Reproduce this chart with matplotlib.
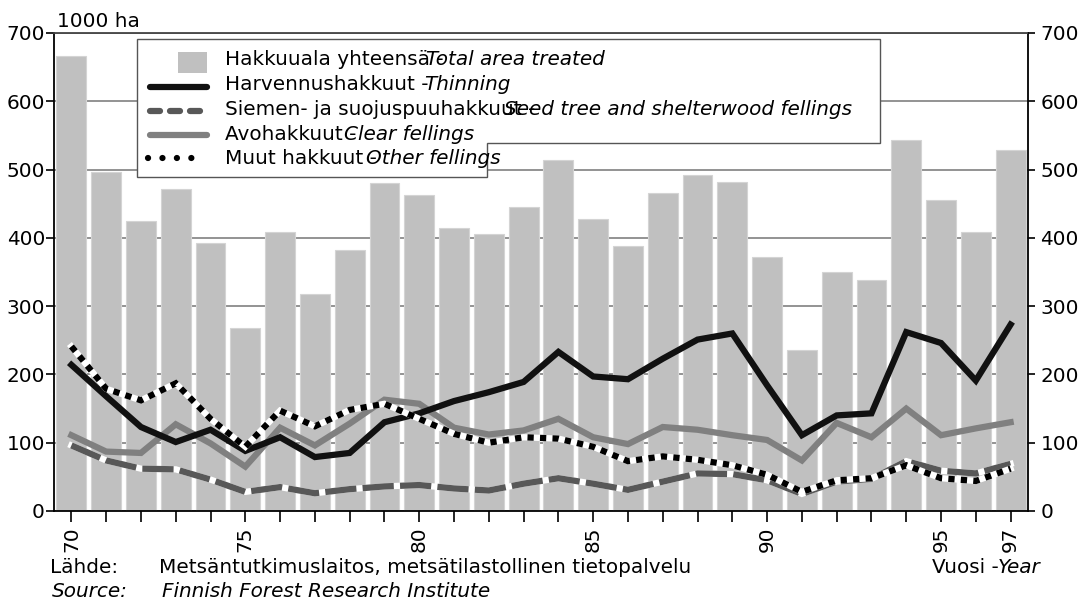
import matplotlib
matplotlib.use("Agg")
import matplotlib.pyplot as plt
from matplotlib.patches import Polygon, Rectangle
from matplotlib.lines import Line2D

# ---- data ----
years = list(range(70, 98))
total_area = [667, 497, 425, 471, 393, 268, 409, 318, 382, 480, 463, 415, 406, 445,
              514, 427, 388, 465, 492, 482, 372, 236, 350, 339, 543, 456, 409, 529]
thinning = [214, 168, 123, 101, 119, 88, 108, 79, 85, 130, 143, 161, 174, 189,
            233, 197, 193, 223, 251, 260, 184, 111, 140, 143, 262, 246, 191, 273]
seed_tree = [96, 74, 62, 61, 46, 28, 35, 26, 32, 36, 38, 33, 30, 40,
             48, 40, 31, 43, 55, 54, 45, 25, 43, 47, 73, 59, 55, 69]
clear_fell = [111, 87, 85, 127, 99, 65, 122, 96, 128, 163, 157, 122, 112, 118,
              135, 108, 98, 123, 119, 111, 104, 74, 129, 108, 150, 111, 121, 130]
other_fell = [241, 179, 162, 187, 135, 94, 147, 124, 148, 157, 135, 113, 100, 108,
              106, 94, 73, 80, 75, 67, 53, 28, 45, 48, 67, 48, 44, 62]
labeled_years = [70, 75, 80, 85, 90, 95, 97]
y_ticks = [0, 100, 200, 300, 400, 500, 600, 700]

legend_fi = ["Hakkuuala yhteensä -", "Harvennushakkuut -", "Siemen- ja suojuspuuhakkuut -",
             "Avohakkuut -", "Muut hakkuut -"]
legend_en = ["Total area treated", "Thinning", "Seed tree and shelterwood fellings",
             "Clear fellings", "Other fellings"]

W, H = 1079, 604
FS = 14.4
plt.rcParams['font.family'] = ['DejaVu Sans']

def fx(x):
    return x / W

def fy(y):
    return 1 - y / H

fig = plt.figure(figsize=(W / 100, H / 100), dpi=100)
ax = fig.add_axes([fx(54), fy(511), (1028 - 54) / W, (511 - 33) / H])

BAR_C = '#c0c0c0'
THIN_C = '#111111'
SEED_C = '#585858'
CLEAR_C = '#808080'
LW = 4.5

ax.bar(years, total_area, width=0.86, color=BAR_C, edgecolor='#d4d4d4', linewidth=0.8, zorder=2)

ax.plot(years, clear_fell, color=CLEAR_C, lw=LW, solid_joinstyle='miter', zorder=3)
ax.plot(years, thinning, color=THIN_C, lw=LW, solid_joinstyle='miter', zorder=3.5)
ax.plot(years, seed_tree, color='white', lw=LW, solid_joinstyle='miter', zorder=4)
ax.plot(years, seed_tree, color=SEED_C, lw=LW, linestyle=(0, (5, 1)),
        dash_capstyle='butt', dash_joinstyle='miter', zorder=4.1)
ax.plot(years, other_fell, color='white', lw=LW, solid_joinstyle='miter', zorder=5)
ax.plot(years, other_fell, color='black', lw=LW, linestyle=(0, (1, 1)),
        dash_capstyle='butt', dash_joinstyle='miter', zorder=5.1)

ax.set_xlim(69.5, 97.5)
ax.set_ylim(0, 700)
ax.set_yticks(y_ticks)
ax.set_yticklabels([str(v) for v in y_ticks])
ax.set_axisbelow(True)
ax.yaxis.grid(True, color='#808080', lw=1.2)
ax.xaxis.grid(False)

ax.set_xticks(years)
ax.set_xticklabels([str(y) if y in labeled_years else '' for y in years],
                   rotation=90, fontsize=FS)
ax.tick_params(axis='x', length=8, width=1.2, pad=3, direction='out')
ax.tick_params(axis='y', length=6, width=1.2, pad=0.5, labelsize=FS, direction='out')

for s in ['left', 'right', 'bottom']:
    ax.spines[s].set_linewidth(1.3)
    ax.spines[s].set_color('black')
ax.spines['top'].set_linewidth(1.3)
ax.spines['top'].set_color('#444444')

ax2 = ax.twinx()
ax2.set_ylim(0, 700)
ax2.set_yticks(y_ticks)
ax2.set_yticklabels([str(v) for v in y_ticks])
ax2.tick_params(axis='y', length=5, width=1.2, pad=4, labelsize=FS, direction='out')
for s in ax2.spines.values():
    s.set_visible(False)

# unit label
fig.text(fx(57), fy(27), "1000 ha", fontsize=FS, va='baseline', ha='left')

# legend box (stepped outline)
poly = Polygon([(fx(137), fy(39)), (fx(880), fy(39)), (fx(880), fy(143)),
                (fx(487), fy(143)), (fx(487), fy(177)), (fx(137), fy(177))],
               closed=True, transform=fig.transFigure, facecolor='white',
               edgecolor='#555555', lw=1.0, zorder=10)
fig.add_artist(poly)

fig.add_artist(Rectangle((fx(178), fy(73)), 29 / W, 21 / H, transform=fig.transFigure,
                         facecolor=BAR_C, edgecolor='none', zorder=11))
fig.add_artist(Line2D([fx(150), fx(207)], [fy(87), fy(87)], transform=fig.transFigure,
                      color=THIN_C, lw=LW, solid_capstyle='round', zorder=11))
fig.add_artist(Line2D([fx(150), fx(207)], [fy(111), fy(111)], transform=fig.transFigure,
                      color=SEED_C, lw=LW, linestyle=(0, (1.6, 1.6)),
                      dash_capstyle='round', zorder=11))
fig.add_artist(Line2D([fx(150), fx(207)], [fy(135), fy(135)], transform=fig.transFigure,
                      color=CLEAR_C, lw=LW, solid_capstyle='round', zorder=11))
fig.add_artist(Line2D([fx(148), fx(196)], [fy(158), fy(158)], transform=fig.transFigure,
                      color='black', lw=LW, linestyle=(0, (0.01, 2.3)),
                      dash_capstyle='round', zorder=11))

row_base = [65, 90, 115, 140, 164]
en_x = [426, 424, 504, 344, 366]
for fi, en, yb, ex in zip(legend_fi, legend_en, row_base, en_x):
    fig.text(fx(225), fy(yb), fi, fontsize=FS, va='baseline', ha='left', zorder=12)
    fig.text(fx(ex), fy(yb), en, fontsize=FS, style='italic', va='baseline', ha='left', zorder=12)

# footer
fig.text(fx(50), fy(573), "Lähde:", fontsize=FS, va='baseline')
fig.text(fx(159), fy(573), "Metsäntutkimuslaitos, metsätilastollinen tietopalvelu",
         fontsize=FS, va='baseline')
fig.text(fx(999), fy(573), "Vuosi -", fontsize=FS, va='baseline', ha='right')
fig.text(fx(1040), fy(573), "Year", fontsize=FS, style='italic', va='baseline', ha='right')
fig.text(fx(52), fy(597), "Source:", fontsize=FS, style='italic', va='baseline')
fig.text(fx(162), fy(597), "Finnish Forest Research Institute", fontsize=FS,
         style='italic', va='baseline')

fig.savefig("out.png", dpi=100)
